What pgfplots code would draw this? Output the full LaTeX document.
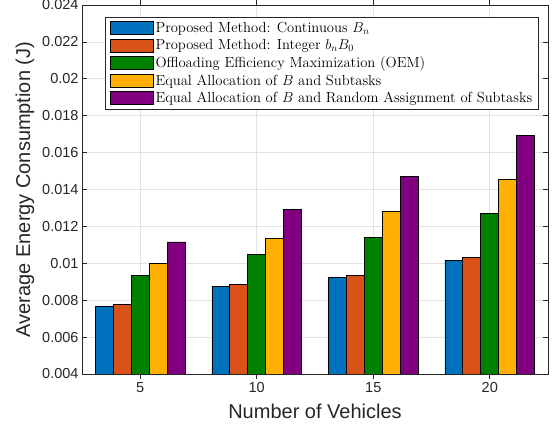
\documentclass[border=0pt]{standalone}
\usepackage{fontspec}
\usepackage{pgfplots}
\pgfplotsset{compat=1.18}
\newfontfamily\arial{Liberation Sans}
\definecolor{mblue}{RGB}{0,114,189}
\definecolor{morange}{RGB}{217,83,25}
\definecolor{mgreen}{RGB}{0,128,0}
\definecolor{myellow}{RGB}{255,176,0}
\definecolor{mpurple}{RGB}{128,0,128}
\definecolor{axgray}{RGB}{38,38,38}
\definecolor{gridgray}{RGB}{225,225,225}
\begin{document}
\begin{tikzpicture}
\useasboundingbox (0,0) rectangle (559bp,430bp);
\begin{axis}[
  at={(82bp,56bp)}, anchor=south west,
  scale only axis, width=466bp, height=369bp,
  xmin=2.5, xmax=22.5, ymin=0.004, ymax=0.024,
  xtick={5,10,15,20},
  ytick={0.004,0.006,...,0.0241},
  scaled y ticks=false,
  yticklabel style={/pgf/number format/fixed,/pgf/number format/precision=3},
  /pgf/number format/assume math mode=true,
  ticklabel style={font=\arial\fontsize{14.5bp}{17bp}\selectfont, text=axgray},
  grid=major, major grid style={gridgray, line width=0.6bp},
  axis line style={axgray, line width=0.6bp},
  tick style={axgray, line width=0.6bp},
  major tick length=5bp,
  tick align=inside,
  xtick pos=both, ytick pos=both,
  xlabel={Number of Vehicles},
  ylabel={Average Energy Consumption (J)},
  every axis x label/.style={at={(axis description cs:0.5,-37/369)}, anchor=center,
    font=\arial\fontsize{20bp}{24bp}\selectfont, text=axgray},
  every axis y label/.style={at={(axis description cs:-57/466,0.5)}, anchor=center, rotate=90,
    font=\arial\fontsize{20bp}{24bp}\selectfont, text=axgray},
  ybar, bar width=0.77,
  every axis plot/.append style={draw=black, line width=0.7bp},
  legend cell align=left,
  legend style={at={(23/466,1-12/369)}, anchor=north west, draw=axgray, line width=0.7bp,
    font=\fontsize{14.6bp}{17bp}\selectfont, row sep=1.5bp, inner xsep=4.5bp, inner ysep=3bp},
  legend image code/.code={\draw[#1] (0bp,-6.5bp) rectangle (43bp,6.5bp);},
]
\addplot[fill=mblue, bar shift=-1.54] coordinates {(5,0.00764) (10,0.00873) (15,0.00922) (20,0.01015)};
\addplot[fill=morange, bar shift=-0.77] coordinates {(5,0.00775) (10,0.00885) (15,0.00935) (20,0.01031)};
\addplot[fill=mgreen, bar shift=0] coordinates {(5,0.00933) (10,0.01047) (15,0.0114) (20,0.01269)};
\addplot[fill=myellow, bar shift=0.77] coordinates {(5,0.00998) (10,0.01136) (15,0.01282) (20,0.01455)};
\addplot[fill=mpurple, bar shift=1.54] coordinates {(5,0.01116) (10,0.01291) (15,0.01469) (20,0.01693)};
\legend{Proposed Method: Continuous $B_n$, Proposed Method: Integer $b_nB_0$, Offloading Efficiency Maximization (OEM), Equal Allocation of $B$ and Subtasks, Equal Allocation of $B$ and Random Assignment of Subtasks}
\end{axis}
\end{tikzpicture}
\end{document}
